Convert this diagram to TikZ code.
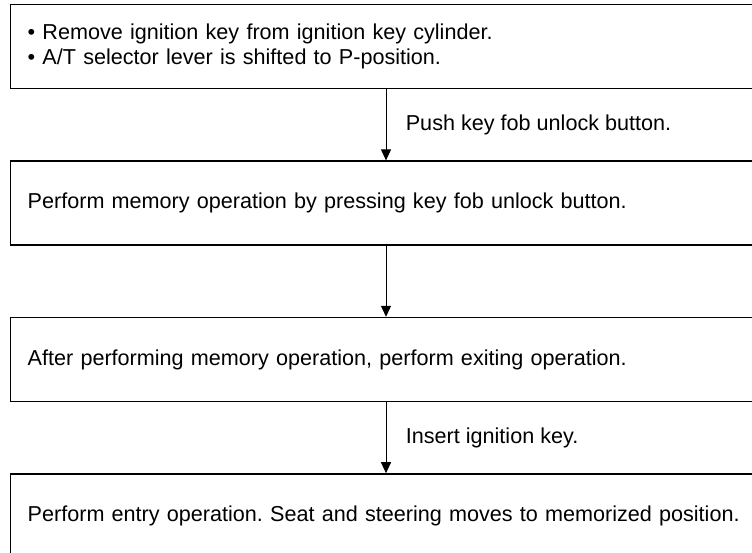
\documentclass[tikz,border=0pt]{standalone}
\usepackage{fontspec}
\setmainfont{Liberation Sans}
\usetikzlibrary{positioning,arrows.meta}
\frenchspacing

\begin{document}
\begin{tikzpicture}[x=1pt,y=-1pt,
  stepbox/.style={draw, line width=1.4pt, anchor=north west, align=left,
    text width=764pt, inner xsep=17pt, minimum height=84pt,
    font=\fontsize{21.6}{25}\selectfont},
  flow/.style={line width=1pt, -{Triangle[width=10pt,length=11pt]}},
  note/.style={anchor=west, xshift=16pt, font=\fontsize{21.6}{25}\selectfont}]

\useasboundingbox (0,0) rectangle (752,553);

\newcommand{\gap}{71pt}

\node[stepbox] (start) at (10,4) {\textbullet\ Remove ignition key from ignition key cylinder.\\
\textbullet\ A/T selector lever is shifted to P-position.};
\node[stepbox, below=\gap of start] (memory) {Perform memory operation by pressing key fob unlock button.};
\node[stepbox, below=\gap of memory] (exit) {After performing memory operation, perform exiting operation.};
\node[stepbox, below=\gap of exit] (entry) {Perform entry operation. Seat and steering moves to memorized position.};

\coordinate (ax) at (386,0);

\draw[flow] (start.south -| ax) -- node[note] (push) {Push key fob unlock button.} (memory.north -| ax);
\draw[flow] (memory.south -| ax) -- (exit.north -| ax);
\draw[flow] (exit.south -| ax) -- node[note] (insert) {Insert ignition key.} (entry.north -| ax);

\end{tikzpicture}
\end{document}
